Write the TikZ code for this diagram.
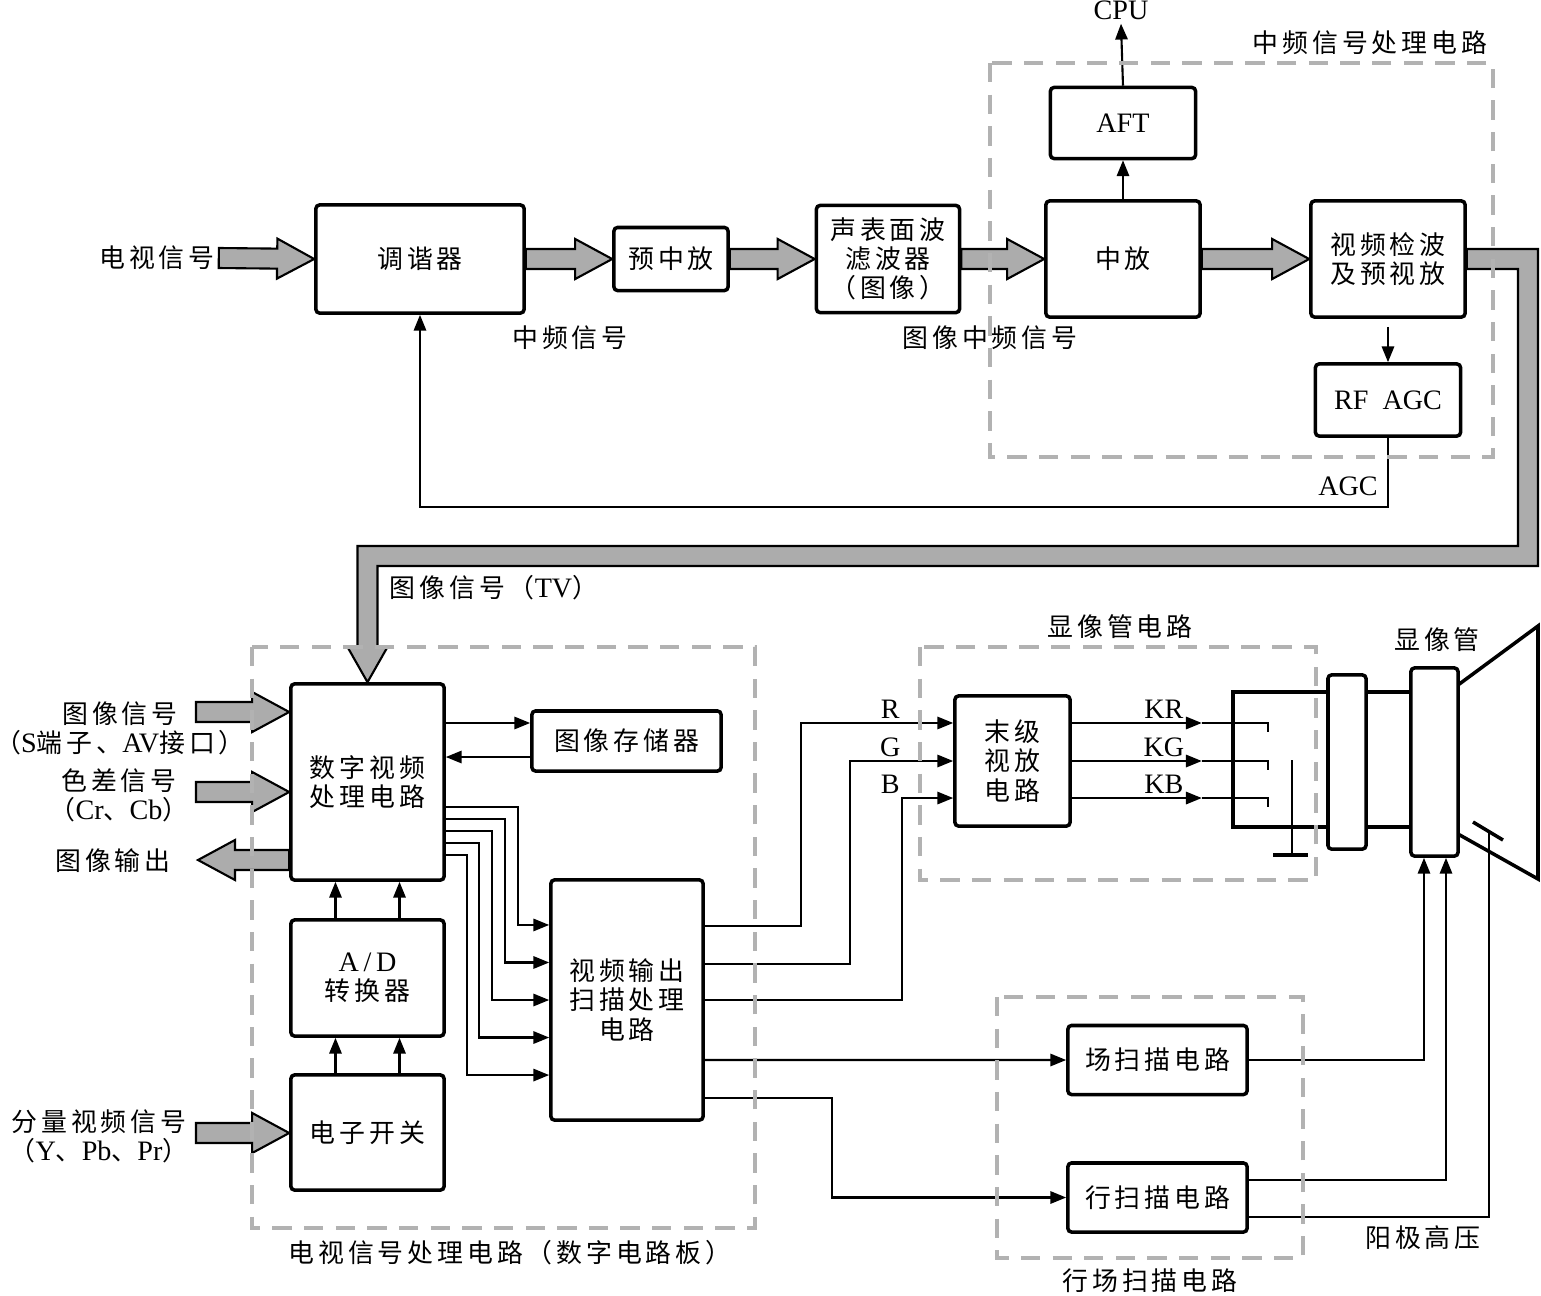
\documentclass[tikz,border=0pt]{standalone}
\usepackage{fontspec}
\setmainfont{Liberation Serif}
\newfontfamily\cjk{Noto Sans CJK SC}[Scale=0.92,LetterSpace=15]
\usetikzlibrary{arrows.meta,calc}

\tikzset{
  blk/.style={draw, line width=1pt, rounded corners=1pt, inner sep=0pt, align=center, font=\cjk},
  lbl/.style={inner sep=1pt, align=center, font=\cjk},
  fat/.style={draw=black, line width=0.6pt, fill=gray!65},
  dbox/.style={draw=gray!60, line width=1.3pt, dash pattern=on 5.5pt off 3.5pt},
  wire/.style={line width=0.6pt},
  tube/.style={line width=1pt},
  >={Triangle[length=4.5pt,width=3.5pt]}
}

% broad grey arrow from #1 to #2
\newcommand{\fatarrow}[2]{%
  \coordinate (fa) at ($(#2)!0.37cm!(#1)$);
  \draw[fat] ($(#1)!0.1cm!90:(#2)$) -- ($(fa)!0.1cm!90:(#2)$) -- ($(fa)!0.2cm!90:(#2)$) -- (#2)
    -- ($(fa)!0.2cm!-90:(#2)$) -- ($(fa)!0.1cm!-90:(#2)$) -- ($(#1)!0.1cm!-90:(#2)$) -- cycle;}

\begin{document}
\fontsize{8}{8.3}\selectfont
\begin{tikzpicture}[x=0.01cm,y=-0.01cm]
    \useasboundingbox (0,0) rectangle (1541,1296);
    % top chain
    \node[lbl] (tv) at (157,258) {电视信号};
    \node[blk, minimum width=2.08cm, minimum height=1.08cm] (tuner) at (420,259) {调谐器};
    \node[blk, minimum width=1.14cm, minimum height=0.63cm] (pre) at (671,259) {预中放};
    \node[blk, minimum width=1.43cm, minimum height=1.07cm] (saw) at (888,259) {声表面波\\滤波器\\（图像）};
    \node[blk, minimum width=1.54cm, minimum height=1.16cm] (ifa) at (1123,259) {中放};
    \node[blk, minimum width=1.54cm, minimum height=1.16cm] (vdet) at (1388,259) {视频检波\\及预视放};
    \node[blk, minimum width=1.45cm, minimum height=0.71cm, font=\rmfamily] (aft) at (1123,123) {AFT};
    \node[blk, minimum width=1.45cm, minimum height=0.72cm, font=\rmfamily] (agc) at (1388,400) {RF\ \ AGC};
    \node[inner sep=1pt] (cpu) at (1121,10) {CPU};
    \node[lbl] (l-if) at (570,338) {中频信号};
    \node[lbl] (l-pif) at (990,338) {图像中频信号};
    \node[lbl] (l-ifbox) at (1370,43) {中频信号处理电路};
    \node[inner sep=1pt] (l-agc) at (1348,486) {AGC};

    \fatarrow{tv.east}{tuner.west}
    \fatarrow{tuner.east}{pre.west}
    \fatarrow{pre.east}{saw.west}
    \fatarrow{saw.east}{ifa.west}
    \fatarrow{ifa.east}{vdet.west}
    \draw[wire,->] (ifa.north) -- (aft.south);
    \draw[wire,->] (aft.north) -- (cpu.south);
    \draw[wire,->,shorten <=0.08cm] (vdet.south) -- (agc.north);
    \draw[wire,->] (agc.south) -- ++(0,69) -| (tuner.south);

    % signal board
    \node[blk, minimum width=1.53cm, minimum height=1.96cm] (dsp) at (367.5,782) {数字视频\\处理电路};
    \node[blk, minimum width=1.89cm, minimum height=0.6cm] (mem) at (626.5,741) {图像存储器};
    \node[blk, minimum width=1.53cm, minimum height=1.16cm] (adc) at (367.5,978) {{\rmfamily A\,/\,D}\\转换器};
    \node[blk, minimum width=1.53cm, minimum height=1.15cm] (esw) at (367.5,1132.5) {电子开关};
    \node[blk, minimum width=1.52cm, minimum height=2.4cm] (vout) at (627,1000) {视频输出\\扫描处理\\电路};
    \node[lbl] (l-tvsig) at (494,588) {图像信号（{\rmfamily TV}）};
    \node[lbl] (l-s) at (120,728) {图像信号\\（{\rmfamily S}端子、{\rmfamily AV}接口）};
    \node[lbl] (l-c) at (119,795.5) {色差信号\\（{\rmfamily Cr}、{\rmfamily Cb}）};
    \node[lbl] (l-o) at (113,861) {图像输出};
    \node[lbl] (l-y) at (99,1136) {分量视频信号\\（{\rmfamily Y}、{\rmfamily Pb}、{\rmfamily Pr}）};
    \node[lbl] (l-tv) at (510,1253) {电视信号处理电路（数字电路板）};

    \draw[fat] ([yshift=0.1cm]vdet.east) -- (1538,249) -- (1538,566) -- (377.5,566) -- (377.5,647)
      -- (387.5,647) -- (dsp.north) -- (347.5,647) -- (357.5,647) -- (357.5,546) -- (1518,546)
      -- (1518,269) -- ([yshift=-0.1cm]vdet.east) -- cycle;
    \coordinate (in1) at (196,712);
    \coordinate (in2) at (196,792);
    \coordinate (out1) at (198,860);
    \coordinate (in3) at (196,1133);
    \fatarrow{in1}{in1 -| dsp.west}
    \fatarrow{in2}{in2 -| dsp.west}
    \fatarrow{out1 -| dsp.west}{out1}
    \fatarrow{in3}{in3 -| esw.west}

    \coordinate (m1) at ([yshift=0.18cm]mem.west);
    \coordinate (m2) at ([yshift=-0.16cm]mem.west);
    \draw[wire,->] (m1 -| dsp.east) -- (m1);
    \draw[wire,->] (m2) -- (m2 -| dsp.east);
    \foreach \dx in {-0.32,0.32} {
      \draw[wire,->] ([xshift=\dx cm]adc.north) -- ([xshift=\dx cm]dsp.south);
      \draw[wire,->] ([xshift=\dx cm]esw.north) -- ([xshift=\dx cm]adc.south);
    }
    \foreach \a/\dx/\b in {-0.25/72/0.75, -0.37/59/0.375, -0.49/46/0, -0.61/33/-0.375, -0.73/21/-0.75}
      \draw[wire,->] ([yshift=\a cm]dsp.east) -- ++(\dx,0) |- ([yshift=\b cm]vout.west);

    % picture tube circuit
    \node[blk, minimum width=1.15cm, minimum height=1.3cm] (fin) at (1012.5,761) {末级\\视放\\电路};
    \node[blk, minimum width=0.38cm, minimum height=1.74cm] (ring) at (1347,762) {};
    \node[blk, minimum width=0.47cm, minimum height=1.88cm] (yoke) at (1434.5,762) {};
    \node[lbl] (l-crt) at (1120,627) {显像管电路};
    \node[lbl] (l-tube) at (1437,640) {显像管};
    \foreach \a/\dx/\b/\c in {0.74/96/0.38/R, 0.36/145/0/G, 0/197/-0.37/B} {
      \draw[wire,->] ([yshift=\a cm]vout.east) -- ++(\dx,0) |- ([yshift=\b cm]fin.west);
      \node[inner sep=1pt, above] (l-\c) at ([xshift=-0.63cm, yshift=\b cm]fin.west) {\c};
    }
    \foreach \b/\c in {0.38/KR, 0/KG, -0.37/KB} {
      \draw[wire,->] ([yshift=\b cm]fin.east) -- ++(130,0) coordinate (k-\c);
      \draw[wire] (k-\c) -- ++(66,0) -- ++(0,9);
      \node[inner sep=1pt, above] (l-\c) at ([xshift=0.92cm, yshift=\b cm]fin.east) {\c};
    }
    \draw[tube] (1328,692) -- (1233,692) -- (1233,827) -- (1328,827);
    \draw[tube] (1366,692) -- (1411,692) (1366,827) -- (1411,827);
    \draw[tube] (1458,685) -- (1538,626) -- (1538,879) -- (1458,834);
    \draw[wire] (1292,760) -- (1292,855);
    \draw[tube] (1273,855) -- (1308,855);
    \draw[tube] (1473,822) -- (1503,840);
    \coordinate (anode) at (1489,831);

    % scanning
    \node[blk, minimum width=1.79cm, minimum height=0.69cm] (vsc) at (1157.5,1060) {场扫描电路};
    \node[blk, minimum width=1.79cm, minimum height=0.69cm] (hsc) at (1157.5,1197.5) {行扫描电路};
    \node[lbl] (l-scan) at (1150,1281) {行场扫描电路};
    \node[lbl] (l-hv) at (1423,1238) {阳极高压};
    \draw[wire,->] ([yshift=-0.6cm]vout.east) -- (vsc.west);
    \draw[wire,->] ([yshift=-0.98cm]vout.east) -- ++(127,0) |- (hsc.west);
    \draw[wire,->] (vsc.east) -| ([xshift=-0.105cm]yoke.south);
    \draw[wire,->] ([yshift=0.175cm]hsc.east) -| ([xshift=0.115cm]yoke.south);
    \draw[wire] ([yshift=-0.195cm]hsc.east) -| (anode);

    % dashed frames
    \draw[dbox] (990,63) rectangle (1493,457);
    \draw[dbox] (252,647) rectangle (755,1228);
    \draw[dbox] (920,647) rectangle (1316,880);
    \draw[dbox] (997,997) rectangle (1303,1258);
\end{tikzpicture}
\end{document}
